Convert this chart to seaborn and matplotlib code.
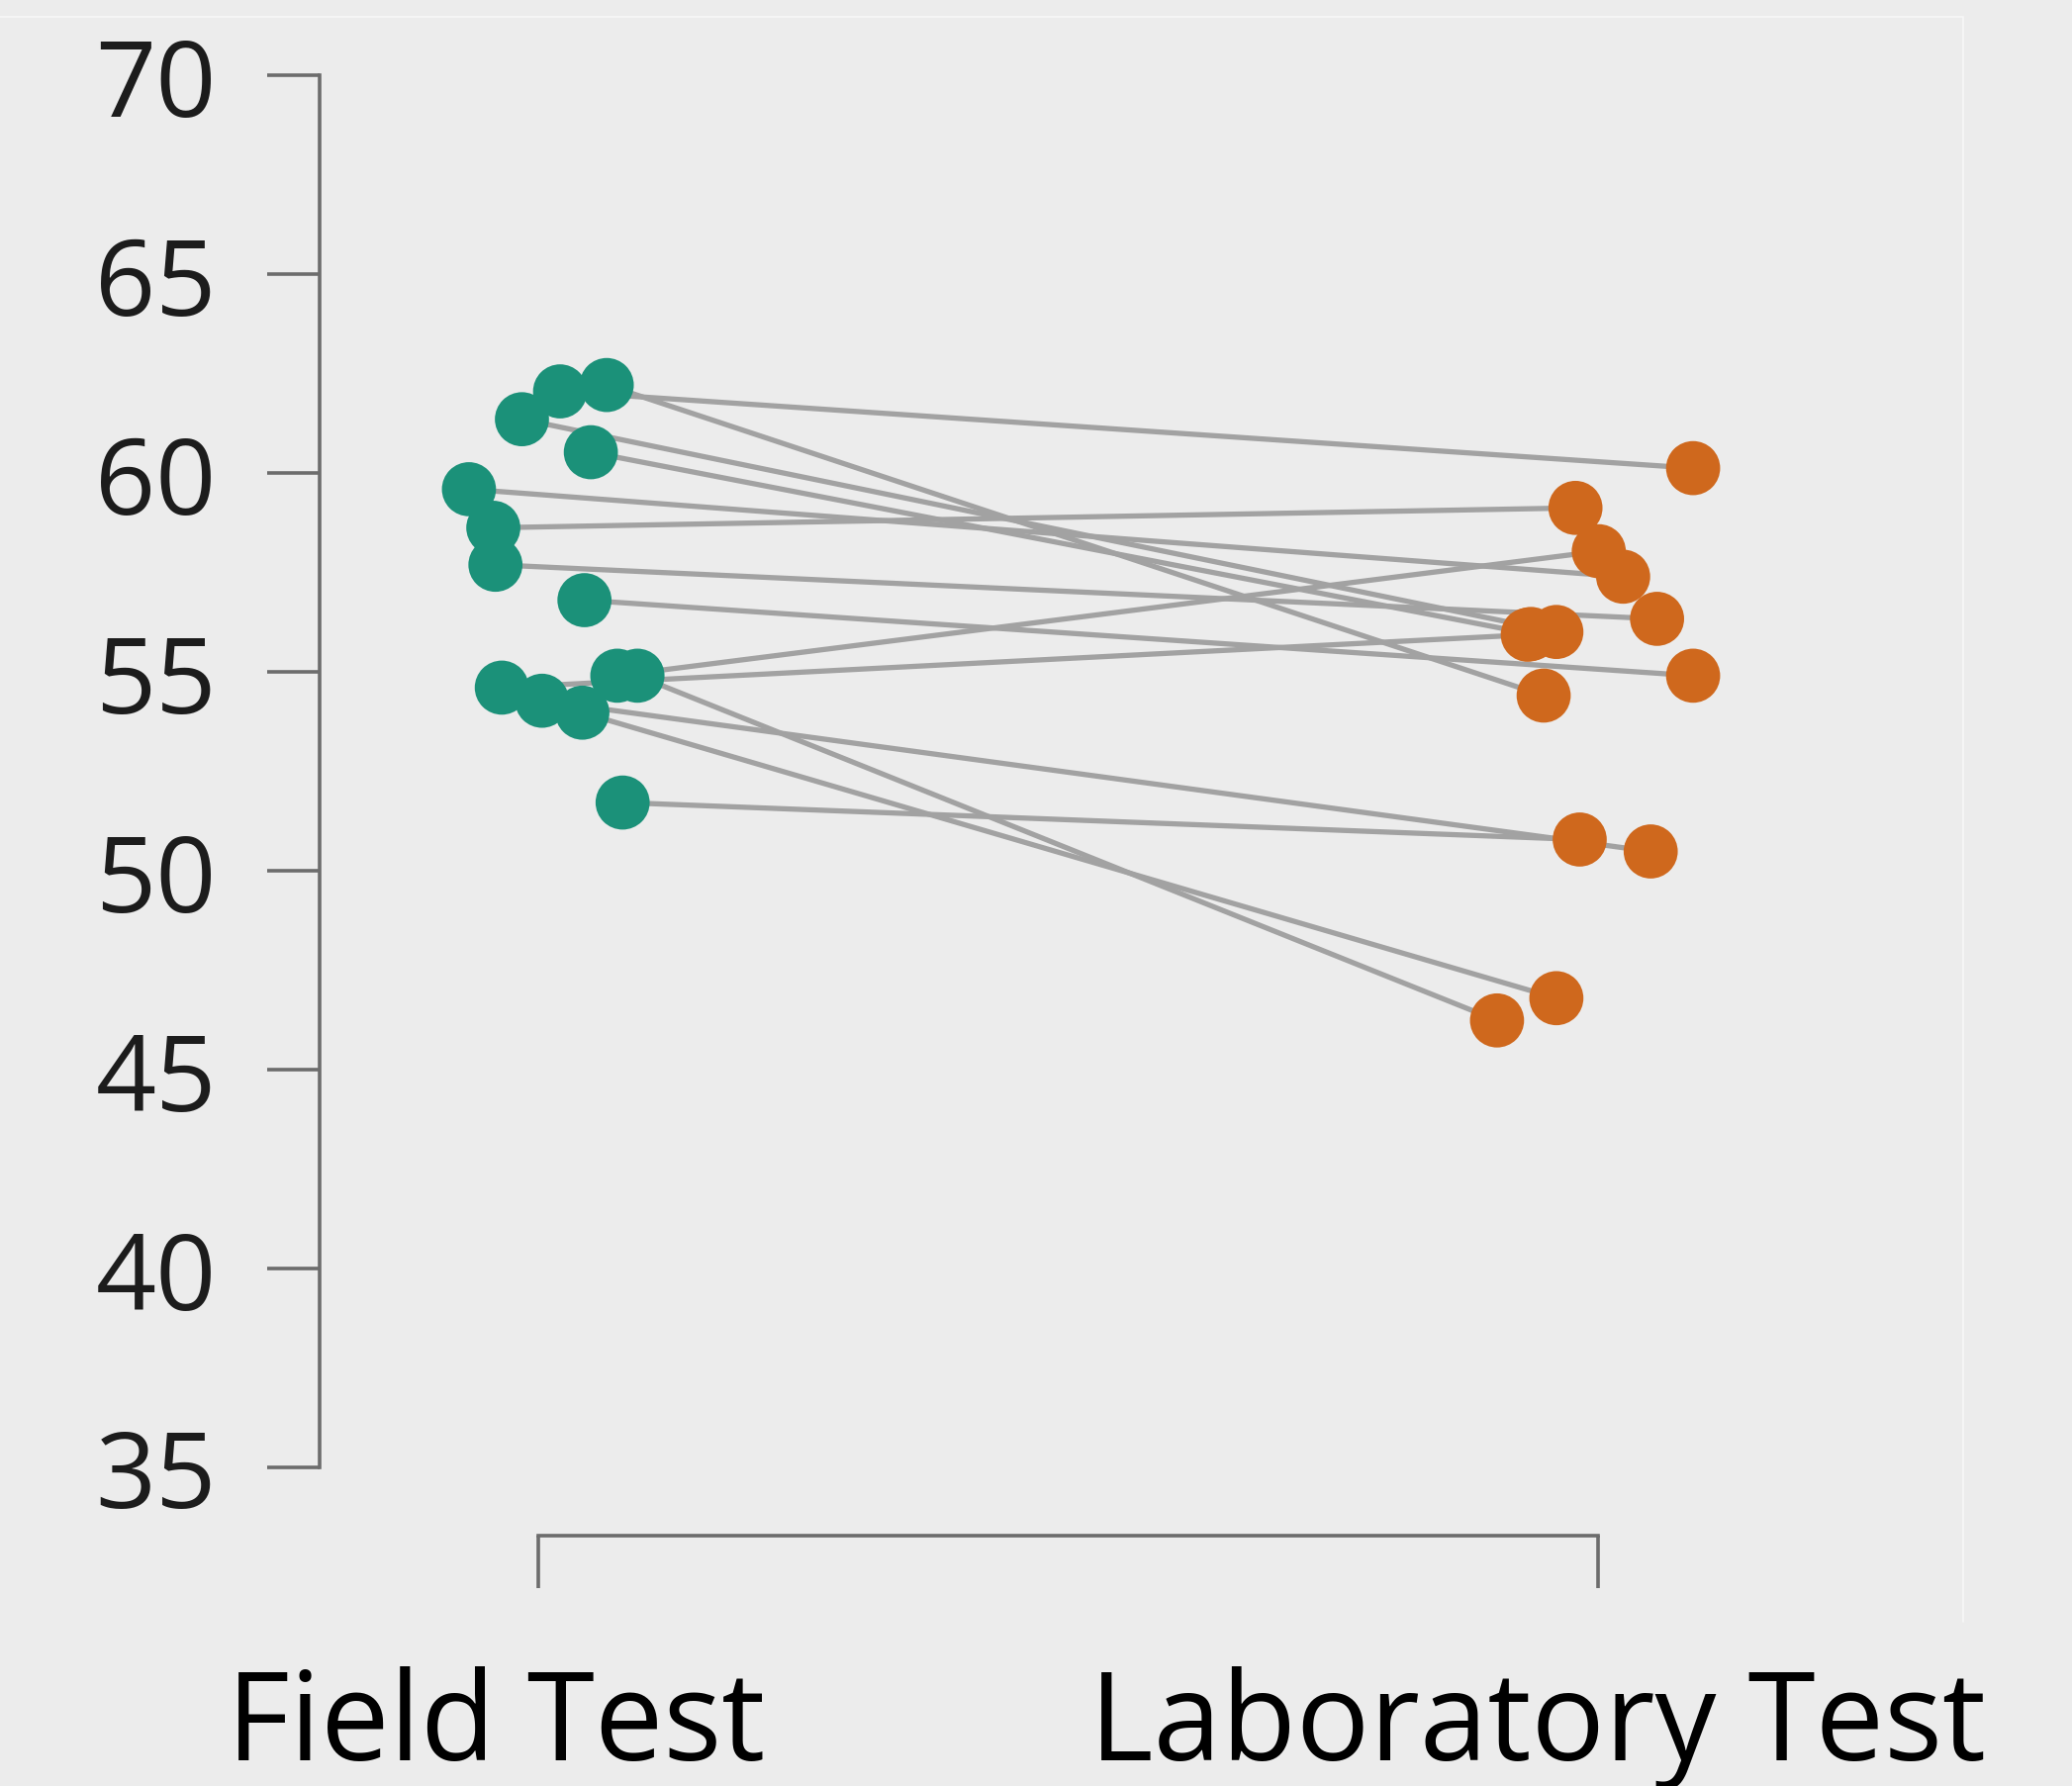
import matplotlib
matplotlib.use("Agg")
import matplotlib.pyplot as plt
import matplotlib.transforms as mtransforms
from matplotlib.lines import Line2D
import seaborn as sns
import pandas as pd

# ---- data ----
conditions = ["Field Test", "Laboratory Test"]
field_values = [62.22, 62.06, 61.36, 60.53, 59.60, 58.63, 57.70, 56.81,
                54.61, 54.28, 53.98, 54.91, 54.91, 51.72]
lab_values = [54.41, 60.13, 56.01, 55.96, 57.40, 59.13, 56.34, 54.91,
              55.94, 50.49, 46.80, 58.04, 46.24, 50.79]
# horizontal jitter of each dot (category units)
field_jitter = [0.065, 0.021, -0.015, 0.050, -0.065, -0.042, -0.040, 0.044,
                -0.034, 0.004, 0.042, 0.075, 0.094, 0.080]
lab_jitter = [-0.051, 0.090, -0.039, -0.063, 0.024, -0.021, 0.056, 0.090,
              -0.066, 0.050, -0.039, 0.001, -0.095, -0.017]
y_ticks = [35, 40, 45, 50, 55, 60, 65, 70]

BG = "#ececec"
GREEN = "#1b9179"
ORANGE = "#cf681d"

rows = []
for i, (fv, lv, fj, lj) in enumerate(zip(field_values, lab_values, field_jitter, lab_jitter)):
    rows.append(dict(subject=i, condition=conditions[0], xpos=0 + fj, value=fv))
    rows.append(dict(subject=i, condition=conditions[1], xpos=1 + lj, value=lv))
df = pd.DataFrame(rows)

sns.set_theme(style="ticks")
plt.rcParams['font.family'] = ['Open Sans', 'DejaVu Sans']

fig = plt.figure(figsize=(20.94, 18.06), dpi=100, facecolor=BG)
ax = fig.add_axes([0.1542, 0.1783, 0.7192, 0.7788])
ax.set_facecolor(BG)

sns.lineplot(data=df, x="xpos", y="value", units="subject", estimator=None,
             sort=False, color="#a2a2a2", linewidth=3.8, ax=ax, zorder=1)
sns.scatterplot(data=df, x="xpos", y="value", hue="condition",
                palette={conditions[0]: GREEN, conditions[1]: ORANGE},
                s=1550, edgecolor="none", linewidth=0, legend=False, ax=ax, zorder=3)

ax.set_xlim(-0.206, 1.2)
ax.set_ylim(35, 70)
ax.set_xticks([0, 1])
ax.set_xticklabels(conditions)
ax.set_yticks(y_ticks)
ax.set_yticklabels([str(t) for t in y_ticks])
ax.set_xlabel("")
ax.set_ylabel("")

sns.despine(ax=ax, offset={"left": 0, "bottom": 50}, trim=True)
for sp in ["left", "bottom"]:
    ax.spines[sp].set_color("#6c6c6c")
    ax.spines[sp].set_linewidth(2.6)

ax.tick_params(axis="both", length=38, width=2.6, color="#6c6c6c", labelcolor="#1c1c1c")
ax.tick_params(axis="y", labelsize=77, pad=37)
ax.tick_params(axis="x", labelsize=89, pad=56, labelcolor="#000000")

shifts = [-0.42, -0.61]
for lab, dx in zip(ax.get_xticklabels(), shifts):
    lab.set_transform(lab.get_transform() + mtransforms.ScaledTranslation(dx, 0, fig.dpi_scale_trans))

# faint inner frame edges
fig.add_artist(Line2D([0, 0.9475], [0.99, 0.99], transform=fig.transFigure, color="#f7f7f7", lw=1.2))
fig.add_artist(Line2D([0.9475, 0.9475], [0.99, 0.092], transform=fig.transFigure, color="#f7f7f7", lw=1.2))

fig.savefig("out.png", dpi=100, facecolor=BG)
